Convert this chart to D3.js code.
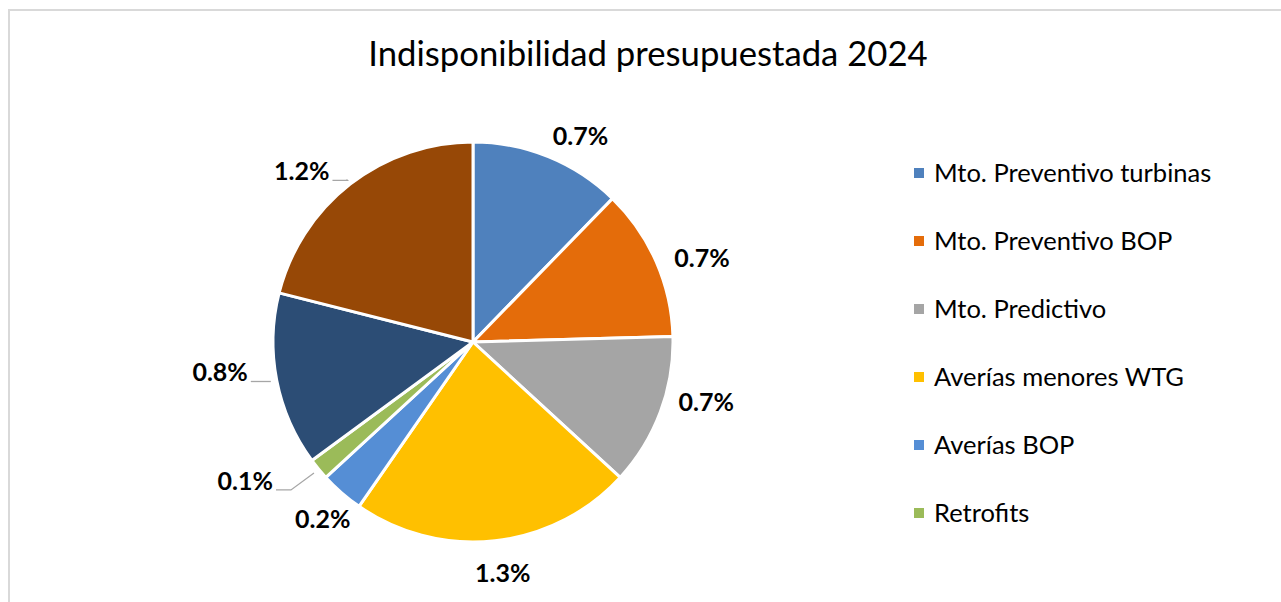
<!DOCTYPE html>
<html>
<head>
<meta charset="utf-8">
<script src="https://cdn.jsdelivr.net/npm/d3@7"></script>
<style>
  html, body { margin: 0; padding: 0; background: #ffffff; }
  svg { display: block; }
</style>
</head>
<body>
<svg id="chart" width="1281" height="602"></svg>
<script>
// Budgeted unavailability breakdown, 2024
const categories = [
  "Mto. Preventivo turbinas",
  "Mto. Preventivo BOP",
  "Mto. Predictivo",
  "Averías menores WTG",
  "Averías BOP",
  "Retrofits",
  "Otros",
  "Otros 2"
];
const values = [0.7, 0.7, 0.7, 1.3, 0.2, 0.1, 0.8, 1.2];
const valueLabels = ["0.7%", "0.7%", "0.7%", "1.3%", "0.2%", "0.1%", "0.8%", "1.2%"];
const colors = ["#4F81BD", "#E46C0A", "#A5A5A5", "#FFC000", "#558ED5", "#9BBB59", "#2C4D75", "#974806"];
const legendCount = 6; // legend box only fits the first six entries
const title = "Indisponibilidad presupuestada 2024";

// Label layout: angle nudge (deg) and radius for outside labels,
// or a leader offset from the slice edge for the crowded ones.
const labelAngleNudge = [5.5, 3.5, -6, -1, -0.7, 0, 0, 0];
const labelRadius = [232, 244, 241, 233, 232, 0, 0, 0];
const leaderOffset = [null, null, null, null, null, [-38, 17], [-20, 0], [-14, 1]];

const svg = d3.select("#chart");
const W = 1281, H = 602;

// chart frame
svg.append("rect")
  .attr("x", 9).attr("y", 10)
  .attr("width", W - 8).attr("height", H)
  .attr("fill", "#ffffff")
  .attr("stroke", "#d9d9d9")
  .attr("stroke-width", 2);

svg.append("text")
  .attr("x", 648).attr("y", 66)
  .attr("text-anchor", "middle")
  .attr("font-family", "Lato, 'Open Sans', sans-serif")
  .attr("font-size", 34.7)
  .attr("fill", "#000")
  .text(title);

const cx = 473, cy = 342, R = 200;
const g = svg.append("g").attr("transform", `translate(${cx},${cy})`);

const pie = d3.pie().sort(null).value(d => d)(values);
const arc = d3.arc().innerRadius(0).outerRadius(R);

g.selectAll("path.slice")
  .data(pie)
  .join("path")
  .attr("class", "slice")
  .attr("d", arc)
  .attr("fill", (d, i) => colors[i])
  .attr("stroke", "#ffffff")
  .attr("stroke-width", 3)
  .attr("stroke-linejoin", "round");

const toXY = (ang, r) => [Math.sin(ang) * r, -Math.cos(ang) * r];

const labelFont = "Lato, 'Open Sans', sans-serif";
const labelSize = 25;
pie.forEach((d, i) => {
  const mid = (d.startAngle + d.endAngle) / 2;
  if (leaderOffset[i]) {
    const e = toXY(mid, R + 6);
    const a = [e[0] + leaderOffset[i][0], e[1] + leaderOffset[i][1]];
    const elbow = [a[0] + 15, a[1]];
    g.append("path")
      .attr("d", d3.line()([a, elbow, e]))
      .attr("fill", "none")
      .attr("stroke", "#a6a6a6")
      .attr("stroke-width", 1.3);
    g.append("text")
      .attr("x", a[0] - 3).attr("y", a[1])
      .attr("text-anchor", "end")
      .attr("font-family", labelFont)
      .attr("font-weight", "bold")
      .attr("font-size", labelSize)
      .attr("fill", "#000")
      .text(valueLabels[i]);
  } else {
    const ang = mid + labelAngleNudge[i] * Math.PI / 180;
    const p = toXY(ang, labelRadius[i]);
    g.append("text")
      .attr("x", p[0]).attr("y", p[1])
      .attr("dy", "0.36em")
      .attr("text-anchor", "middle")
      .attr("font-family", labelFont)
      .attr("font-weight", "bold")
      .attr("font-size", labelSize)
      .attr("fill", "#000")
      .text(valueLabels[i]);
  }
});

// legend
const legendY = d3.scalePoint()
  .domain(d3.range(legendCount))
  .range([173, 513]);

const leg = svg.append("g");
d3.range(legendCount).forEach(i => {
  const y = legendY(i);
  leg.append("rect")
    .attr("x", 914).attr("y", y - 5)
    .attr("width", 10).attr("height", 10)
    .attr("fill", colors[i]);
  leg.append("text")
    .attr("x", 934).attr("y", y)
    .attr("dy", "0.36em")
    .attr("font-family", labelFont)
    .attr("font-size", 25.5)
    .attr("fill", "#000")
    .text(categories[i]);
});
</script>
</body>
</html>
